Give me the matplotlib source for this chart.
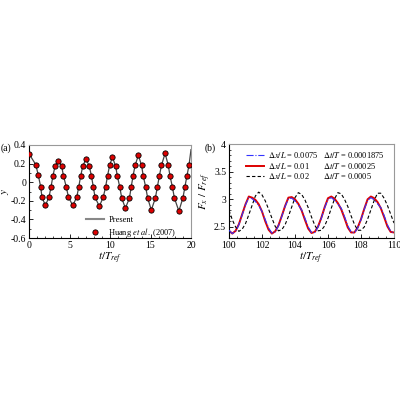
import numpy as np
import matplotlib
matplotlib.use('Agg')
import matplotlib.pyplot as plt
from matplotlib.ticker import MultipleLocator
from matplotlib.lines import Line2D

plt.rcParams['font.family'] = ['Liberation Serif', 'DejaVu Serif']
plt.rcParams['mathtext.fontset'] = 'stix'
plt.rcParams['font.size'] = 7
plt.rcParams['axes.unicode_minus'] = False

# (a) Huang et al. (2007) points, y vs t/T_ref
huang_t = [0.04, 0.83, 1.15, 1.44, 1.6, 2.02, 2.47, 2.72, 2.96, 3.21, 3.62,
           4.04, 4.25, 4.6, 4.87, 5.4, 5.9, 6.14, 6.39, 6.63, 7.04,
           7.45, 7.7, 7.94, 8.15, 8.68, 9.17, 9.46, 9.7, 9.95, 10.3,
           10.7, 10.9, 11.2, 11.45, 11.9, 12.4, 12.62, 12.85, 13.1, 13.5,
           13.9, 14.1, 14.4, 14.65, 15.1, 15.6, 15.85, 16.1, 16.35, 16.8,
           17.2, 17.4, 17.7, 17.95, 18.5, 19.0, 19.25, 19.5, 19.75]
huang_y = [0.30, 0.19, 0.075, -0.05, -0.16, -0.25, -0.16, -0.05, 0.07, 0.17, 0.23,
           0.17, 0.07, -0.05, -0.16, -0.25, -0.16, -0.05, 0.07, 0.17, 0.25,
           0.17, 0.07, -0.05, -0.16, -0.26, -0.16, -0.05, 0.07, 0.18, 0.27,
           0.17, 0.07, -0.05, -0.17, -0.28, -0.17, -0.05, 0.07, 0.18, 0.29,
           0.18, 0.07, -0.05, -0.17, -0.30, -0.17, -0.05, 0.07, 0.18, 0.31,
           0.18, 0.07, -0.05, -0.17, -0.31, -0.17, -0.05, 0.07, 0.18]
# present simulation (same samples, runs to the end of the window)
present_t = [0.0] + huang_t + [20.0]
present_y = [0.31] + huang_y + [0.35]

# (b) F_x / F_ref vs t/T_ref
t_b = [100.0, 100.2, 100.4, 100.6, 100.8, 101.0, 101.2, 101.4, 101.6, 101.8,
       102.0, 102.2, 102.4, 102.6, 102.8, 103.0, 103.2, 103.4, 103.6, 103.8,
       104.0, 104.2, 104.4, 104.6, 104.8, 105.0, 105.2, 105.4, 105.6, 105.8,
       106.0, 106.2, 106.4, 106.6, 106.8, 107.0, 107.2, 107.4, 107.6, 107.8,
       108.0, 108.2, 108.4, 108.6, 108.8, 109.0, 109.2, 109.4, 109.6, 109.8,
       110.0]
f_0075 = [2.44, 2.38, 2.42, 2.54, 2.72, 2.90, 3.03, 3.01, 2.96, 2.89,
          2.78, 2.63, 2.48, 2.39, 2.41, 2.52, 2.69, 2.87, 3.01, 3.02,
          2.97, 2.90, 2.81, 2.66, 2.50, 2.40, 2.40, 2.50, 2.66, 2.85,
          3.00, 3.03, 2.98, 2.91, 2.84, 2.69, 2.52, 2.41, 2.39, 2.48,
          2.63, 2.82, 2.98, 3.03, 2.99, 2.92, 2.85, 2.71, 2.54, 2.42,
          2.39]
f_001 = [2.43, 2.38, 2.43, 2.55, 2.73, 2.91, 3.05, 3.03, 2.99, 2.91,
         2.78, 2.60, 2.45, 2.38, 2.42, 2.53, 2.70, 2.88, 3.03, 3.04,
         3.00, 2.92, 2.80, 2.63, 2.47, 2.39, 2.41, 2.51, 2.67, 2.86,
         3.02, 3.05, 3.01, 2.93, 2.82, 2.66, 2.49, 2.40, 2.40, 2.49,
         2.64, 2.83, 3.00, 3.05, 3.02, 2.95, 2.84, 2.68, 2.51, 2.41,
         2.40]
f_002 = [2.80, 2.63, 2.50, 2.42, 2.46, 2.56, 2.72, 2.89, 3.06, 3.13,
         3.08, 2.97, 2.82, 2.66, 2.51, 2.43, 2.45, 2.54, 2.69, 2.86,
         3.03, 3.12, 3.09, 2.99, 2.85, 2.68, 2.53, 2.43, 2.44, 2.52,
         2.66, 2.84, 3.01, 3.12, 3.10, 3.00, 2.87, 2.70, 2.55, 2.44,
         2.44, 2.50, 2.64, 2.81, 2.98, 3.11, 3.11, 3.02, 2.89, 2.73,
         2.57]

labels_dx = [r'$\Delta x/L$ = 0.0075', r'$\Delta x/L$ = 0.01', r'$\Delta x/L$ = 0.02']
labels_dt = [r'$\Delta t/T$ = 0.0001875', r'$\Delta t/T$ = 0.00025', r'$\Delta t/T$ = 0.0005']

fig = plt.figure(figsize=(4, 4), dpi=100)
ax1 = fig.add_axes([0.0725, 0.405, 0.405, 0.2325])
ax2 = fig.add_axes([0.5725, 0.405, 0.4125, 0.235])

for ax in (ax1, ax2):
    ax.tick_params(which='both', direction='in', labelsize=7, pad=2)
    ax.tick_params(which='major', length=3, width=0.6)
    ax.tick_params(which='minor', length=1.5, width=0.5)
    ax.tick_params(top=False, right=False)
    for s in ('left', 'bottom'):
        ax.spines[s].set_linewidth(0.8)
    for s in ('top', 'right'):
        ax.spines[s].set_color('#999999')
        ax.spines[s].set_linewidth(0.8)

# (a)
ax1.plot(present_t, present_y, color='#444444', lw=0.9, label='Present', zorder=2)
ax1.plot(huang_t, huang_y, ls='none', marker='o', ms=3.8, mfc='#dd0000',
         mec='black', mew=0.6, label=r'Huang $et\ al.$ (2007)', zorder=3)
ax1.set_xlim(0, 20)
ax1.set_ylim(-0.6, 0.4)
ax1.xaxis.set_major_locator(MultipleLocator(5))
ax1.xaxis.set_minor_locator(MultipleLocator(1))
ax1.yaxis.set_minor_locator(MultipleLocator(0.1))
ax1.set_yticks([-0.6, -0.4, -0.2, 0, 0.2, 0.4])
ax1.set_yticklabels(['-0.6', '-0.4', '-0.2', '0', '0.2', '0.4'])
ax1.set_xlabel(r'$t/T_{ref}$', fontsize=8, labelpad=1)
ax1.set_ylabel(r'$y$', fontsize=8, labelpad=0)
leg1 = ax1.legend(loc='upper left', bbox_to_anchor=(0.33, 0.27), frameon=False,
                  fontsize=6, handlelength=2.2, labelspacing=0.2, handletextpad=0.5,
                  borderaxespad=0)
leg1.legend_handles[0].set_color('#888888')
leg1.legend_handles[0].set_linewidth(1.5)
fig.text(0.002, 0.622, '(a)', fontsize=7)

# (b)
l1, = ax2.plot(t_b, f_0075, color='#3333ff', lw=0.8, ls='-.', zorder=3)
l2, = ax2.plot(t_b, f_001, color='#dd0000', lw=1.4, zorder=2)
l3, = ax2.plot(t_b, f_002, color='black', lw=0.8, ls=(0, (3, 2)), zorder=2)
ax2.set_xlim(100, 110)
ax2.set_ylim(2.3, 4)
ax2.xaxis.set_major_locator(MultipleLocator(2))
ax2.xaxis.set_minor_locator(MultipleLocator(0.5))
ax2.yaxis.set_minor_locator(MultipleLocator(0.1))
ax2.set_yticks([2.5, 3, 3.5, 4])
ax2.set_yticklabels(['2.5', '3', '3.5', '4'])
ax2.set_xlabel(r'$t/T_{ref}$', fontsize=8, labelpad=1)
ax2.set_ylabel(r'$F_x\ /\ F_{ref}$', fontsize=8, labelpad=1)
leg2 = ax2.legend([l1, l2, l3], labels_dx, loc='upper left', bbox_to_anchor=(0.085, 0.97),
                  frameon=False, fontsize=6, handlelength=2.1, labelspacing=0.05,
                  handletextpad=0.5, borderaxespad=0)
ax2.add_artist(leg2)
blank = Line2D([], [], color='none')
ax2.legend([blank] * 3, labels_dt, loc='upper left', bbox_to_anchor=(0.55, 0.97),
           frameon=False, fontsize=6, handlelength=0, labelspacing=0.05,
           handletextpad=0, borderaxespad=0)
fig.text(0.512, 0.622, '(b)', fontsize=7)

fig.savefig('out.png', dpi=100)
